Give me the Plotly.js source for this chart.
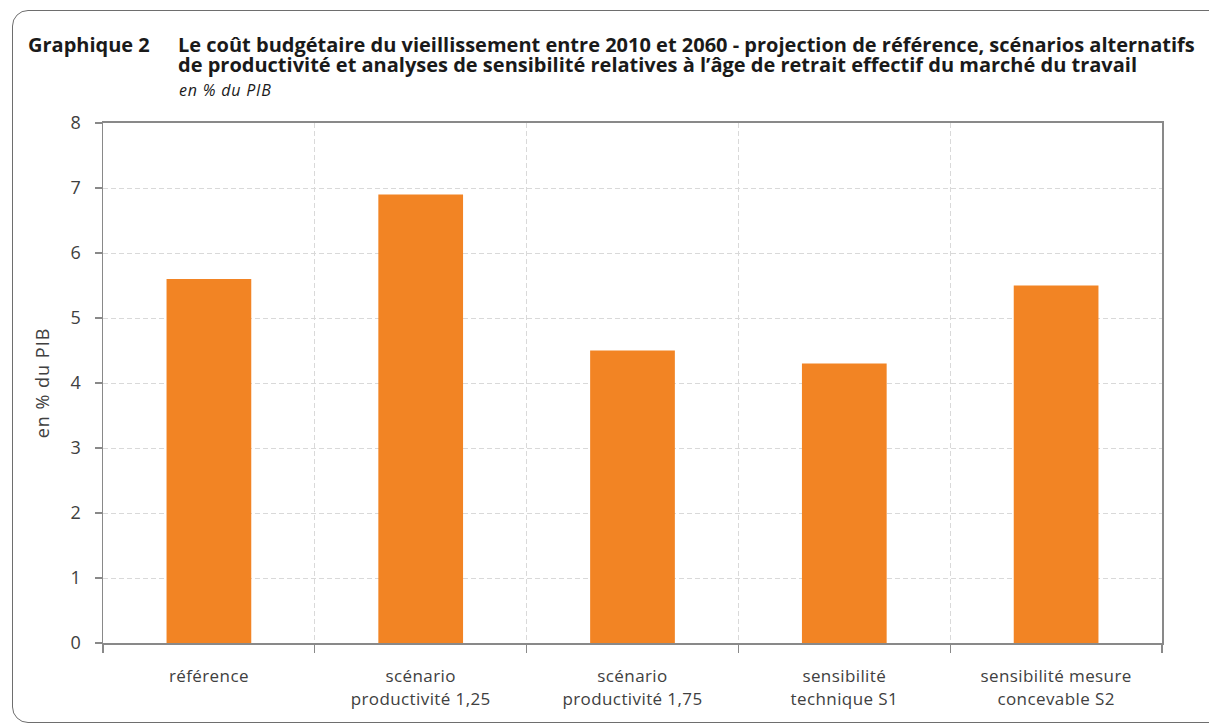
<!DOCTYPE html>
<html>
<head>
<meta charset="utf-8">
<script src="https://cdn.plot.ly/plotly-3.0.1.min.js"></script>
<style>
  html, body { margin: 0; padding: 0; background: #fff; }
  #wrap { position: relative; width: 1209px; height: 727px; overflow: hidden; }
  #chart { position: absolute; left: 0; top: 0; width: 1209px; height: 727px; }
  #frame { position: absolute; left: 12px; top: 10px; width: 1230px; height: 711px;
           border: 1.5px solid #6e6e6e; border-radius: 16px; pointer-events: none; }
  .xtick text { letter-spacing: 0.4px; }
  .ytitle { letter-spacing: 1px; }
  .annotation[data-index="2"] text { letter-spacing: 0.8px; }
</style>
</head>
<body>
<div id="wrap">
  <div id="chart"></div>
  <div id="frame"></div>
</div>
<script>
const categories = [
  "référence",
  "scénario<br>productivité 1,25",
  "scénario<br>productivité 1,75",
  "sensibilité<br>technique S1",
  "sensibilité mesure<br>concevable S2"
];
const values = [5.6, 6.9, 4.5, 4.3, 5.5];
const yTicks = [0, 1, 2, 3, 4, 5, 6, 7, 8];

const chartLabel = "Graphique 2";
const titleLine1 = "Le coût budgétaire du vieillissement entre 2010 et 2060 - projection de référence, scénarios alternatifs";
const titleLine2 = "de productivité et analyses de sensibilité relatives à l’âge de retrait effectif du marché du travail";
const subtitleText = "en % du PIB";
const yTitle = "en % du PIB";

// plot area in pixels
const W = 1209, H = 727;
const L = 103, R = 1162, T = 123, B = 643;
const px = x => (x - L) / (R - L);
const py = y => (B - y) / (B - T);

const FONT = "Open Sans, DejaVu Sans, sans-serif";
const gridColor = "#d9d9d9";
const axisColor = "#898989";
const textColor = "#404040";
const titleColor = "#1a1a1a";

const trace = {
  type: "bar",
  x: categories,
  y: values,
  marker: { color: "#F28424", line: { width: 0 } },
  hoverinfo: "x+y"
};

function note(text, x, y, size) {
  return {
    text: text, xref: "paper", yref: "paper",
    x: px(x), y: py(y), xanchor: "left", yanchor: "middle",
    showarrow: false, align: "left",
    font: { family: FONT, size: size, color: titleColor }
  };
}

const layout = {
  width: W, height: H,
  margin: { l: L, r: W - R, t: T, b: H - B, pad: 0 },
  paper_bgcolor: "rgba(0,0,0,0)",
  plot_bgcolor: "#fff",
  showlegend: false,
  bargap: 0.6,
  font: { family: FONT, size: 15, color: textColor },
  xaxis: {
    type: "category",
    tickson: "boundaries",
    showgrid: true,
    gridcolor: gridColor,
    griddash: "5px,3px",
    gridwidth: 1,
    showline: true,
    linecolor: axisColor,
    linewidth: 2,
    mirror: true,
    ticks: "outside",
    ticklen: 8,
    tickwidth: 1.2,
    tickcolor: axisColor,
    ticklabelstandoff: 17,
    tickfont: { family: FONT, size: 17, color: textColor },
    fixedrange: true
  },
  yaxis: {
    range: [0, 8],
    tickvals: yTicks,
    ticktext: yTicks.map(String),
    showgrid: true,
    gridcolor: gridColor,
    griddash: "5px,3px",
    gridwidth: 1,
    zeroline: false,
    showline: true,
    linecolor: axisColor,
    linewidth: 1.5,
    mirror: true,
    ticks: "outside",
    ticklen: 7,
    tickwidth: 1.2,
    tickcolor: axisColor,
    ticklabelstandoff: 10,
    tickfont: { family: FONT, size: 18, color: textColor },
    title: { text: yTitle, font: { family: FONT, size: 18, color: textColor }, standoff: 16 },
    fixedrange: true
  },
  annotations: [
    note("<b>" + chartLabel + "</b>", 26, 44, 20),
    note("<b>" + titleLine1 + "<br>" + titleLine2 + "</b>", 176, 57, 20),
    note("<i>" + subtitleText + "</i>", 177, 90, 16)
  ]
};

Plotly.newPlot("chart", [trace], layout, { displayModeBar: false, staticPlot: true }).then(function () {
  // tighten the title's leading to match the reference
  document.querySelectorAll('.annotation[data-index="1"] tspan.line').forEach(function (t, i) {
    if (i > 0) t.setAttribute("dy", (i * 1.0) + "em");
  });
});
</script>
</body>
</html>
